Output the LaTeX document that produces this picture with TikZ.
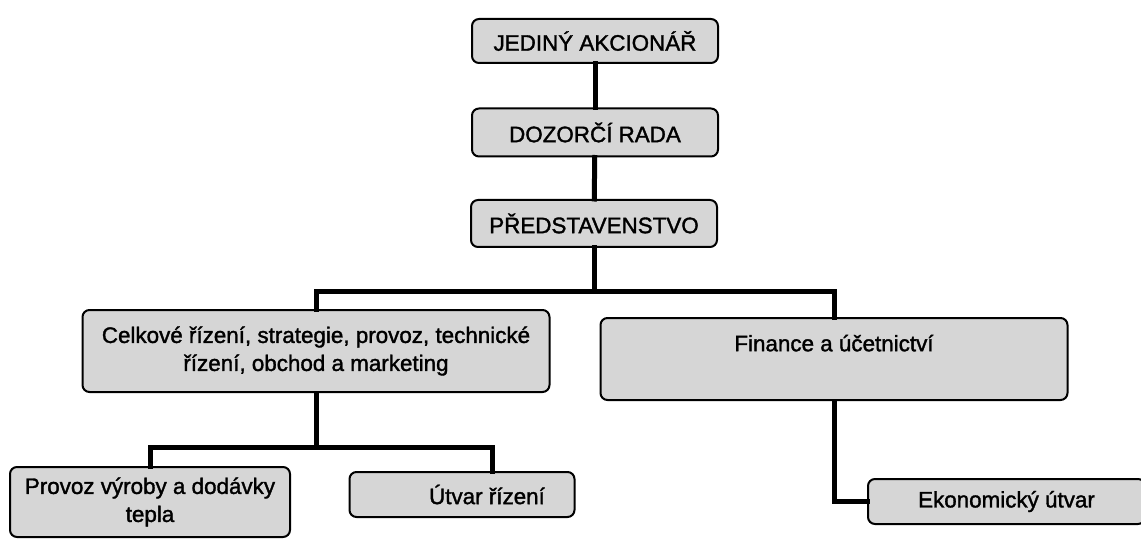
\documentclass[tikz,border=0pt]{standalone}
\usepackage{fontspec}
\setmainfont{Liberation Sans}
\newfontfamily\boxfont{Liberation Sans}[FakeBold=1.5]
\begin{document}
\begin{tikzpicture}[x=1pt,y=-1pt,
  box/.style={draw=black, line width=2pt, fill=gray!32, rounded corners=7pt,
    align=center, inner sep=0pt, font=\boxfont\fontsize{22.4}{28}\selectfont},
  capbox/.style={box, minimum width=246pt, minimum height=44pt},
  conn/.style={line width=5pt, line cap=rect}]
\useasboundingbox (0,0) rectangle (1141,540);
% nodes
\node[capbox] (A) at (595,41) {JEDINÝ AKCIONÁŘ};
\node[capbox, minimum height=48pt] (B) at (595,132.5) {DOZORČÍ RADA};
\node[capbox, minimum height=47pt] (C) at (594,223.5) {PŘEDSTAVENSTVO};
\node[box, minimum width=467pt, minimum height=82pt] (D) at (316,351)
  {Celkové řízení, strategie, provoz, technické\\řízení, obchod a marketing};
\node[box, minimum width=467pt, minimum height=82pt] (E) at (834,359)
  {Finance a účetnictví\\[4pt]\mbox{}};
\node[box, minimum width=280pt, minimum height=70pt] (F) at (150,502)
  {Provoz výroby a dodávky\\tepla};
\node[box, minimum width=225pt, minimum height=45pt] (G) at (462,494.5)
  {\hspace*{50pt}Útvar řízení};
\node[box, minimum width=277pt, minimum height=45pt] (H) at (1006.5,501.5)
  {Ekonomický útvar};
% junctions
\coordinate (j1) at (594,291);
\coordinate (jD) at (316,291);
\coordinate (jE) at (834,291);
\coordinate (j2) at (316,447);
\coordinate (jF) at (150,447);
\coordinate (jG) at (492,447);
% connectors
\draw[conn] (A) -- (B);
\draw[conn] (B) -- (C);
\draw[conn] (C) -- (j1);
\draw[conn] (jD) -- (jE);
\draw[conn] (jD) -- (D);
\draw[conn] (jE) -- (E);
\draw[conn] (D) -- (j2);
\draw[conn] (jF) -- (jG);
\draw[conn] (jF) -- (F);
\draw[conn] (jG) -- (jG |- G.north);
\draw[conn] (E.south) |- (H.west);
\end{tikzpicture}
\end{document}
